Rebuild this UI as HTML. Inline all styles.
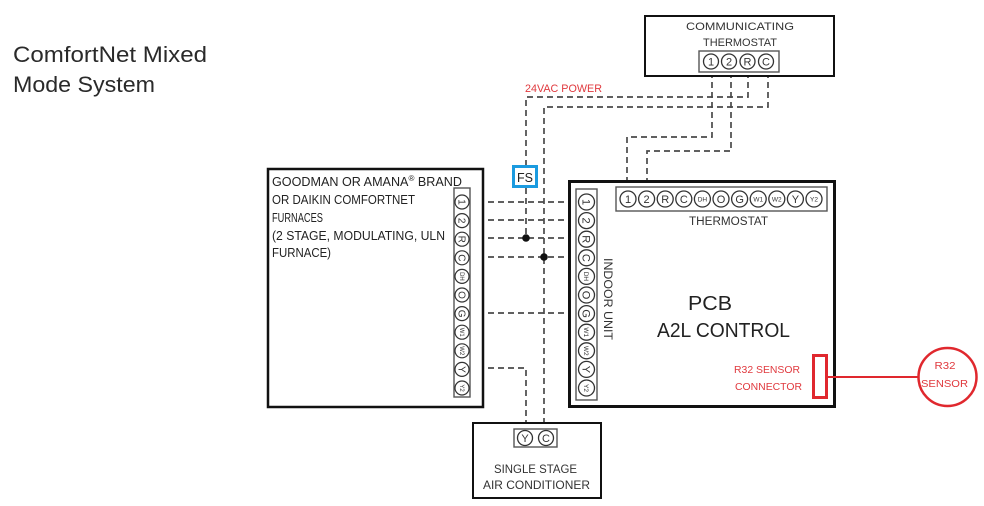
<!DOCTYPE html>
<html><head><meta charset="utf-8"><style>
html,body{margin:0;padding:0;background:#fff;}
svg{display:block;}
text{font-family:"Liberation Sans",sans-serif;}
</style></head><body>
<svg width="984" height="506" viewBox="0 0 984 506" xmlns="http://www.w3.org/2000/svg">
<rect width="984" height="506" fill="#fff"/>
<!-- Title -->
<text x="13" y="62" font-size="22" fill="#2a2a2a" textLength="194" lengthAdjust="spacingAndGlyphs">ComfortNet Mixed</text>
<text x="13" y="92" font-size="22" fill="#2a2a2a" textLength="142" lengthAdjust="spacingAndGlyphs">Mode System</text>

<!-- Dashed wiring -->
<g fill="none" stroke="#4a4a4a" stroke-width="1.7" stroke-dasharray="6 4">
<polyline points="712,72 712,137 627,137 627,180"/>
<polyline points="731,72 731,151 647,151 647,180"/>
<polyline points="748,72 748,97 526,97 526,165"/>
<polyline points="526,188 526,238"/>
<polyline points="768,72 768,107 544,107 544,422"/>
<line x1="488" y1="202" x2="566" y2="202"/>
<line x1="488" y1="220" x2="566" y2="220"/>
<line x1="488" y1="238" x2="566" y2="238"/>
<line x1="488" y1="257" x2="566" y2="257"/>
<line x1="488" y1="313" x2="566" y2="313"/>
<polyline points="488,368 526,368 526,422"/>
</g>
<circle cx="526" cy="238" r="3.8" fill="#111"/>
<circle cx="544" cy="257" r="3.8" fill="#111"/>

<text x="525" y="92" font-size="11" fill="#e0393e" textLength="77" lengthAdjust="spacingAndGlyphs">24VAC POWER</text>

<!-- FS -->
<rect x="513.5" y="166.5" width="23" height="20" fill="#fff" stroke="#1b9be0" stroke-width="3"/>
<text x="525" y="182" font-size="12.5" fill="#222" text-anchor="middle">FS</text>

<!-- Communicating thermostat -->
<rect x="645" y="16" width="189" height="60" fill="#fff" stroke="#111" stroke-width="2"/>
<text x="740" y="30" font-size="11" fill="#333" text-anchor="middle" textLength="108" lengthAdjust="spacingAndGlyphs">COMMUNICATING</text>
<text x="740" y="46" font-size="11" fill="#333" text-anchor="middle" textLength="74" lengthAdjust="spacingAndGlyphs">THERMOSTAT</text>
<rect x="699" y="51" width="80" height="21" fill="#fff" stroke="#555" stroke-width="1.4"/>
<g fill="none" stroke="#333" stroke-width="1.3">
<circle cx="711" cy="61.5" r="7.5"/><circle cx="729" cy="61.5" r="7.5"/><circle cx="747.5" cy="61.5" r="7.5"/><circle cx="766" cy="61.5" r="7.5"/>
</g>
<g font-size="11" fill="#333" text-anchor="middle">
<text x="711" y="65.5">1</text><text x="729" y="65.5">2</text><text x="747.5" y="65.5">R</text><text x="766" y="65.5">C</text>
</g>

<!-- Furnace -->
<rect x="268" y="169" width="215" height="238" fill="none" stroke="#111" stroke-width="2.5"/>
<g font-size="12.5" fill="#222">
<text x="272" y="186" textLength="190" lengthAdjust="spacingAndGlyphs">GOODMAN OR AMANA<tspan font-size="8" dy="-5">®</tspan><tspan dy="5"> BRAND</tspan></text>
<text x="272" y="204" textLength="143" lengthAdjust="spacingAndGlyphs">OR DAIKIN COMFORTNET</text>
<text x="272" y="222" textLength="51" lengthAdjust="spacingAndGlyphs">FURNACES</text>
<text x="272" y="240" textLength="173" lengthAdjust="spacingAndGlyphs">(2 STAGE, MODULATING, ULN</text>
<text x="272" y="257" textLength="59" lengthAdjust="spacingAndGlyphs">FURNACE)</text>
</g>
<rect x="454" y="188" width="16" height="209" fill="#fff" stroke="#555" stroke-width="1.4"/>
<g fill="none" stroke="#333" stroke-width="1.2">
<circle cx="462" cy="202" r="7"/><circle cx="462" cy="220.6" r="7"/><circle cx="462" cy="239.2" r="7"/><circle cx="462" cy="257.8" r="7"/><circle cx="462" cy="276.4" r="7"/><circle cx="462" cy="295" r="7"/><circle cx="462" cy="313.6" r="7"/><circle cx="462" cy="332.2" r="7"/><circle cx="462" cy="350.8" r="7"/><circle cx="462" cy="369.4" r="7"/><circle cx="462" cy="388" r="7"/>
</g>
<g fill="#333" text-anchor="middle" font-size="10">
<text transform="translate(462,202) rotate(90)" y="3.5">1</text>
<text transform="translate(462,220.6) rotate(90)" y="3.5">2</text>
<text transform="translate(462,239.2) rotate(90)" y="3.5">R</text>
<text transform="translate(462,257.8) rotate(90)" y="3.5">C</text>
<text transform="translate(462,276.4) rotate(90)" y="2" font-size="6">DH</text>
<text transform="translate(462,295) rotate(90)" y="3.5">O</text>
<text transform="translate(462,313.6) rotate(90)" y="3.5">G</text>
<text transform="translate(462,332.2) rotate(90)" y="2" font-size="6">W1</text>
<text transform="translate(462,350.8) rotate(90)" y="2" font-size="6">W2</text>
<text transform="translate(462,369.4) rotate(90)" y="3.5">Y</text>
<text transform="translate(462,388) rotate(90)" y="2" font-size="6">Y2</text>
</g>

<!-- PCB -->
<rect x="569.5" y="181.5" width="265" height="225" fill="#fff" stroke="#111" stroke-width="3"/>
<rect x="616" y="187" width="211" height="24" fill="#fff" stroke="#555" stroke-width="1.4"/>
<g fill="none" stroke="#333" stroke-width="1.3">
<circle cx="628" cy="199" r="8"/><circle cx="646.6" cy="199" r="8"/><circle cx="665.2" cy="199" r="8"/><circle cx="683.8" cy="199" r="8"/><circle cx="702.4" cy="199" r="8"/><circle cx="721" cy="199" r="8"/><circle cx="739.6" cy="199" r="8"/><circle cx="758.2" cy="199" r="8"/><circle cx="776.8" cy="199" r="8"/><circle cx="795.4" cy="199" r="8"/><circle cx="814" cy="199" r="8"/>
</g>
<g fill="#333" text-anchor="middle" font-size="11">
<text x="628" y="203">1</text><text x="646.6" y="203">2</text><text x="665.2" y="203">R</text><text x="683.8" y="203">C</text>
<text x="702.4" y="201.5" font-size="6.5">DH</text><text x="721" y="203">O</text><text x="739.6" y="203">G</text>
<text x="758.2" y="201.5" font-size="6.5">W1</text><text x="776.8" y="201.5" font-size="6.5">W2</text><text x="795.4" y="203">Y</text><text x="814" y="201.5" font-size="6.5">Y2</text>
</g>
<text x="728.5" y="225" font-size="11.5" fill="#333" text-anchor="middle" textLength="79" lengthAdjust="spacingAndGlyphs">THERMOSTAT</text>

<rect x="576" y="189" width="21" height="211" fill="#fff" stroke="#555" stroke-width="1.4"/>
<g fill="none" stroke="#333" stroke-width="1.3">
<circle cx="586.5" cy="202" r="8"/><circle cx="586.5" cy="220.6" r="8"/><circle cx="586.5" cy="239.2" r="8"/><circle cx="586.5" cy="257.8" r="8"/><circle cx="586.5" cy="276.4" r="8"/><circle cx="586.5" cy="295" r="8"/><circle cx="586.5" cy="313.6" r="8"/><circle cx="586.5" cy="332.2" r="8"/><circle cx="586.5" cy="350.8" r="8"/><circle cx="586.5" cy="369.4" r="8"/><circle cx="586.5" cy="388" r="8"/>
</g>
<g fill="#333" text-anchor="middle" font-size="11">
<text transform="translate(586.5,202) rotate(90)" y="4">1</text>
<text transform="translate(586.5,220.6) rotate(90)" y="4">2</text>
<text transform="translate(586.5,239.2) rotate(90)" y="4">R</text>
<text transform="translate(586.5,257.8) rotate(90)" y="4">C</text>
<text transform="translate(586.5,276.4) rotate(90)" y="2.3" font-size="6.5">DH</text>
<text transform="translate(586.5,295) rotate(90)" y="4">O</text>
<text transform="translate(586.5,313.6) rotate(90)" y="4">G</text>
<text transform="translate(586.5,332.2) rotate(90)" y="2.3" font-size="6.5">W1</text>
<text transform="translate(586.5,350.8) rotate(90)" y="2.3" font-size="6.5">W2</text>
<text transform="translate(586.5,369.4) rotate(90)" y="4">Y</text>
<text transform="translate(586.5,388) rotate(90)" y="2.3" font-size="6.5">Y2</text>
</g>
<text transform="translate(604,258) rotate(90)" font-size="11.5" fill="#333" textLength="82" lengthAdjust="spacingAndGlyphs">INDOOR UNIT</text>

<text x="688" y="310" font-size="20" fill="#222" textLength="44" lengthAdjust="spacingAndGlyphs">PCB</text>
<text x="657" y="337" font-size="20" fill="#222" textLength="133" lengthAdjust="spacingAndGlyphs">A2L CONTROL</text>

<text x="734" y="373" font-size="10.5" fill="#e0393e" textLength="66" lengthAdjust="spacingAndGlyphs">R32 SENSOR</text>
<text x="735" y="390" font-size="10.5" fill="#e0393e" textLength="67" lengthAdjust="spacingAndGlyphs">CONNECTOR</text>
<rect x="813.5" y="355.5" width="13" height="42" fill="none" stroke="#e0282e" stroke-width="3"/>
<line x1="827" y1="377" x2="918" y2="377" stroke="#e0282e" stroke-width="2"/>
<circle cx="947.5" cy="377" r="29" fill="#fff" stroke="#e0282e" stroke-width="2.5"/>
<text x="945" y="369" font-size="10.5" fill="#e0393e" text-anchor="middle" textLength="21" lengthAdjust="spacingAndGlyphs">R32</text>
<text x="944.5" y="387" font-size="10.5" fill="#e0393e" text-anchor="middle" textLength="47" lengthAdjust="spacingAndGlyphs">SENSOR</text>

<!-- AC -->
<rect x="473" y="423" width="128" height="75" fill="#fff" stroke="#111" stroke-width="2"/>
<rect x="514" y="429" width="43" height="18" fill="#fff" stroke="#555" stroke-width="1.4"/>
<g fill="none" stroke="#333" stroke-width="1.3"><circle cx="525" cy="438" r="7.5"/><circle cx="546" cy="438" r="7.5"/></g>
<g fill="#333" text-anchor="middle" font-size="11"><text x="525" y="442">Y</text><text x="546" y="442">C</text></g>
<text x="535.5" y="473" font-size="11.5" fill="#333" text-anchor="middle" textLength="83" lengthAdjust="spacingAndGlyphs">SINGLE STAGE</text>
<text x="536.5" y="489" font-size="11.5" fill="#333" text-anchor="middle" textLength="107" lengthAdjust="spacingAndGlyphs">AIR CONDITIONER</text>
</svg>
</body></html>
